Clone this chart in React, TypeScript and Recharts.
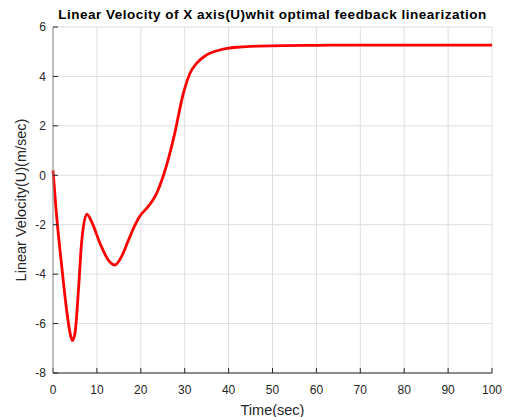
import { CartesianGrid, Line, LineChart, XAxis, YAxis } from "recharts";

// time (sec) and linear velocity U (m/sec)
const time = [
  0, 0.8, 2, 3.1, 3.9, 4.4, 5, 5.8, 6.5, 7.7, 8.8, 10.7, 12.6, 14.1, 15.6,
  17.2, 18.7, 19.8, 21.3, 22.5, 23.6, 24.8, 25.9, 27, 27.8, 28.5, 29.2, 29.9,
  31.2, 32.7, 35, 38, 41.8, 49.4, 60, 70, 80, 90, 100,
];
const velocity = [
  0.2, -1.6, -3.7, -5.45, -6.4, -6.69, -6.4, -4.64, -2.75, -1.57, -1.88,
  -2.75, -3.43, -3.63, -3.29, -2.62, -2.01, -1.65, -1.34, -1.07, -0.73, -0.19,
  0.42, 1.16, 1.75, 2.35, 2.95, 3.45, 4.13, 4.53, 4.87, 5.07, 5.18, 5.24,
  5.26, 5.27, 5.27, 5.27, 5.27,
];
const xTicks = [0, 10, 20, 30, 40, 50, 60, 70, 80, 90, 100];
const yTicks = [-8, -6, -4, -2, 0, 2, 4, 6];

const data = time.map((t, i) => ({ t, u: velocity[i] }));

const ink = "#262626";
const font = "'Liberation Sans', Arial, sans-serif";

export default function App() {
  return (
    <div
      style={{
        position: "absolute",
        left: 0,
        top: 0,
        width: 507,
        height: 417,
        background: "#fff",
        fontFamily: font,
      }}
    >
      <div
        style={{
          position: "absolute",
          top: 7,
          left: 53,
          width: 439,
          textAlign: "center",
          fontWeight: "bold",
          fontSize: 13.5,
          letterSpacing: 0.5,
          color: "#000",
          whiteSpace: "nowrap",
        }}
      >
        Linear Velocity of X axis(U)whit optimal feedback linearization
      </div>
      <LineChart
        width={507}
        height={417}
        data={data}
        margin={{ top: 27, right: 15, bottom: 24, left: 23 }}
      >
        <CartesianGrid stroke="#dedede" strokeWidth={1} />
        <XAxis
          xAxisId="top"
          orientation="top"
          dataKey="t"
          type="number"
          domain={[0, 100]}
          ticks={xTicks}
          tick={false}
          height={0}
          stroke={ink}
          tickSize={-5}
        />
        <YAxis
          yAxisId="right"
          orientation="right"
          type="number"
          domain={[-8, 6]}
          ticks={yTicks}
          tick={false}
          width={0}
          stroke="#8c8c8c"
          tickSize={-5}
          tickLine={{ stroke: ink }}
        />
        <XAxis
          dataKey="t"
          type="number"
          domain={[0, 100]}
          ticks={xTicks}
          height={20}
          stroke={ink}
          tickSize={-5}
          tickMargin={17}
          tick={{ fill: ink, fontSize: 12, fontFamily: font }}
          label={{
            value: "Time(sec)",
            position: "insideBottom",
            offset: -22,
            fill: ink,
            fontSize: 14.5,
            fontFamily: font,
          }}
        />
        <YAxis
          type="number"
          domain={[-8, 6]}
          ticks={yTicks}
          width={30}
          stroke="#8c8c8c"
          tickSize={-5}
          tickMargin={12}
          tickLine={{ stroke: ink }}
          tick={{ fill: ink, fontSize: 12, fontFamily: font }}
          label={{
            value: "Linear Velocity(U)(m/sec)",
            angle: -90,
            position: "insideLeft",
            offset: -2,
            style: { textAnchor: "middle" },
            fill: ink,
            fontSize: 14.5,
            fontFamily: font,
          }}
        />
        <Line
          type="monotone"
          dataKey="u"
          stroke="#ff0000"
          strokeWidth={2.8}
          dot={false}
          isAnimationActive={false}
        />
      </LineChart>
    </div>
  );
}
